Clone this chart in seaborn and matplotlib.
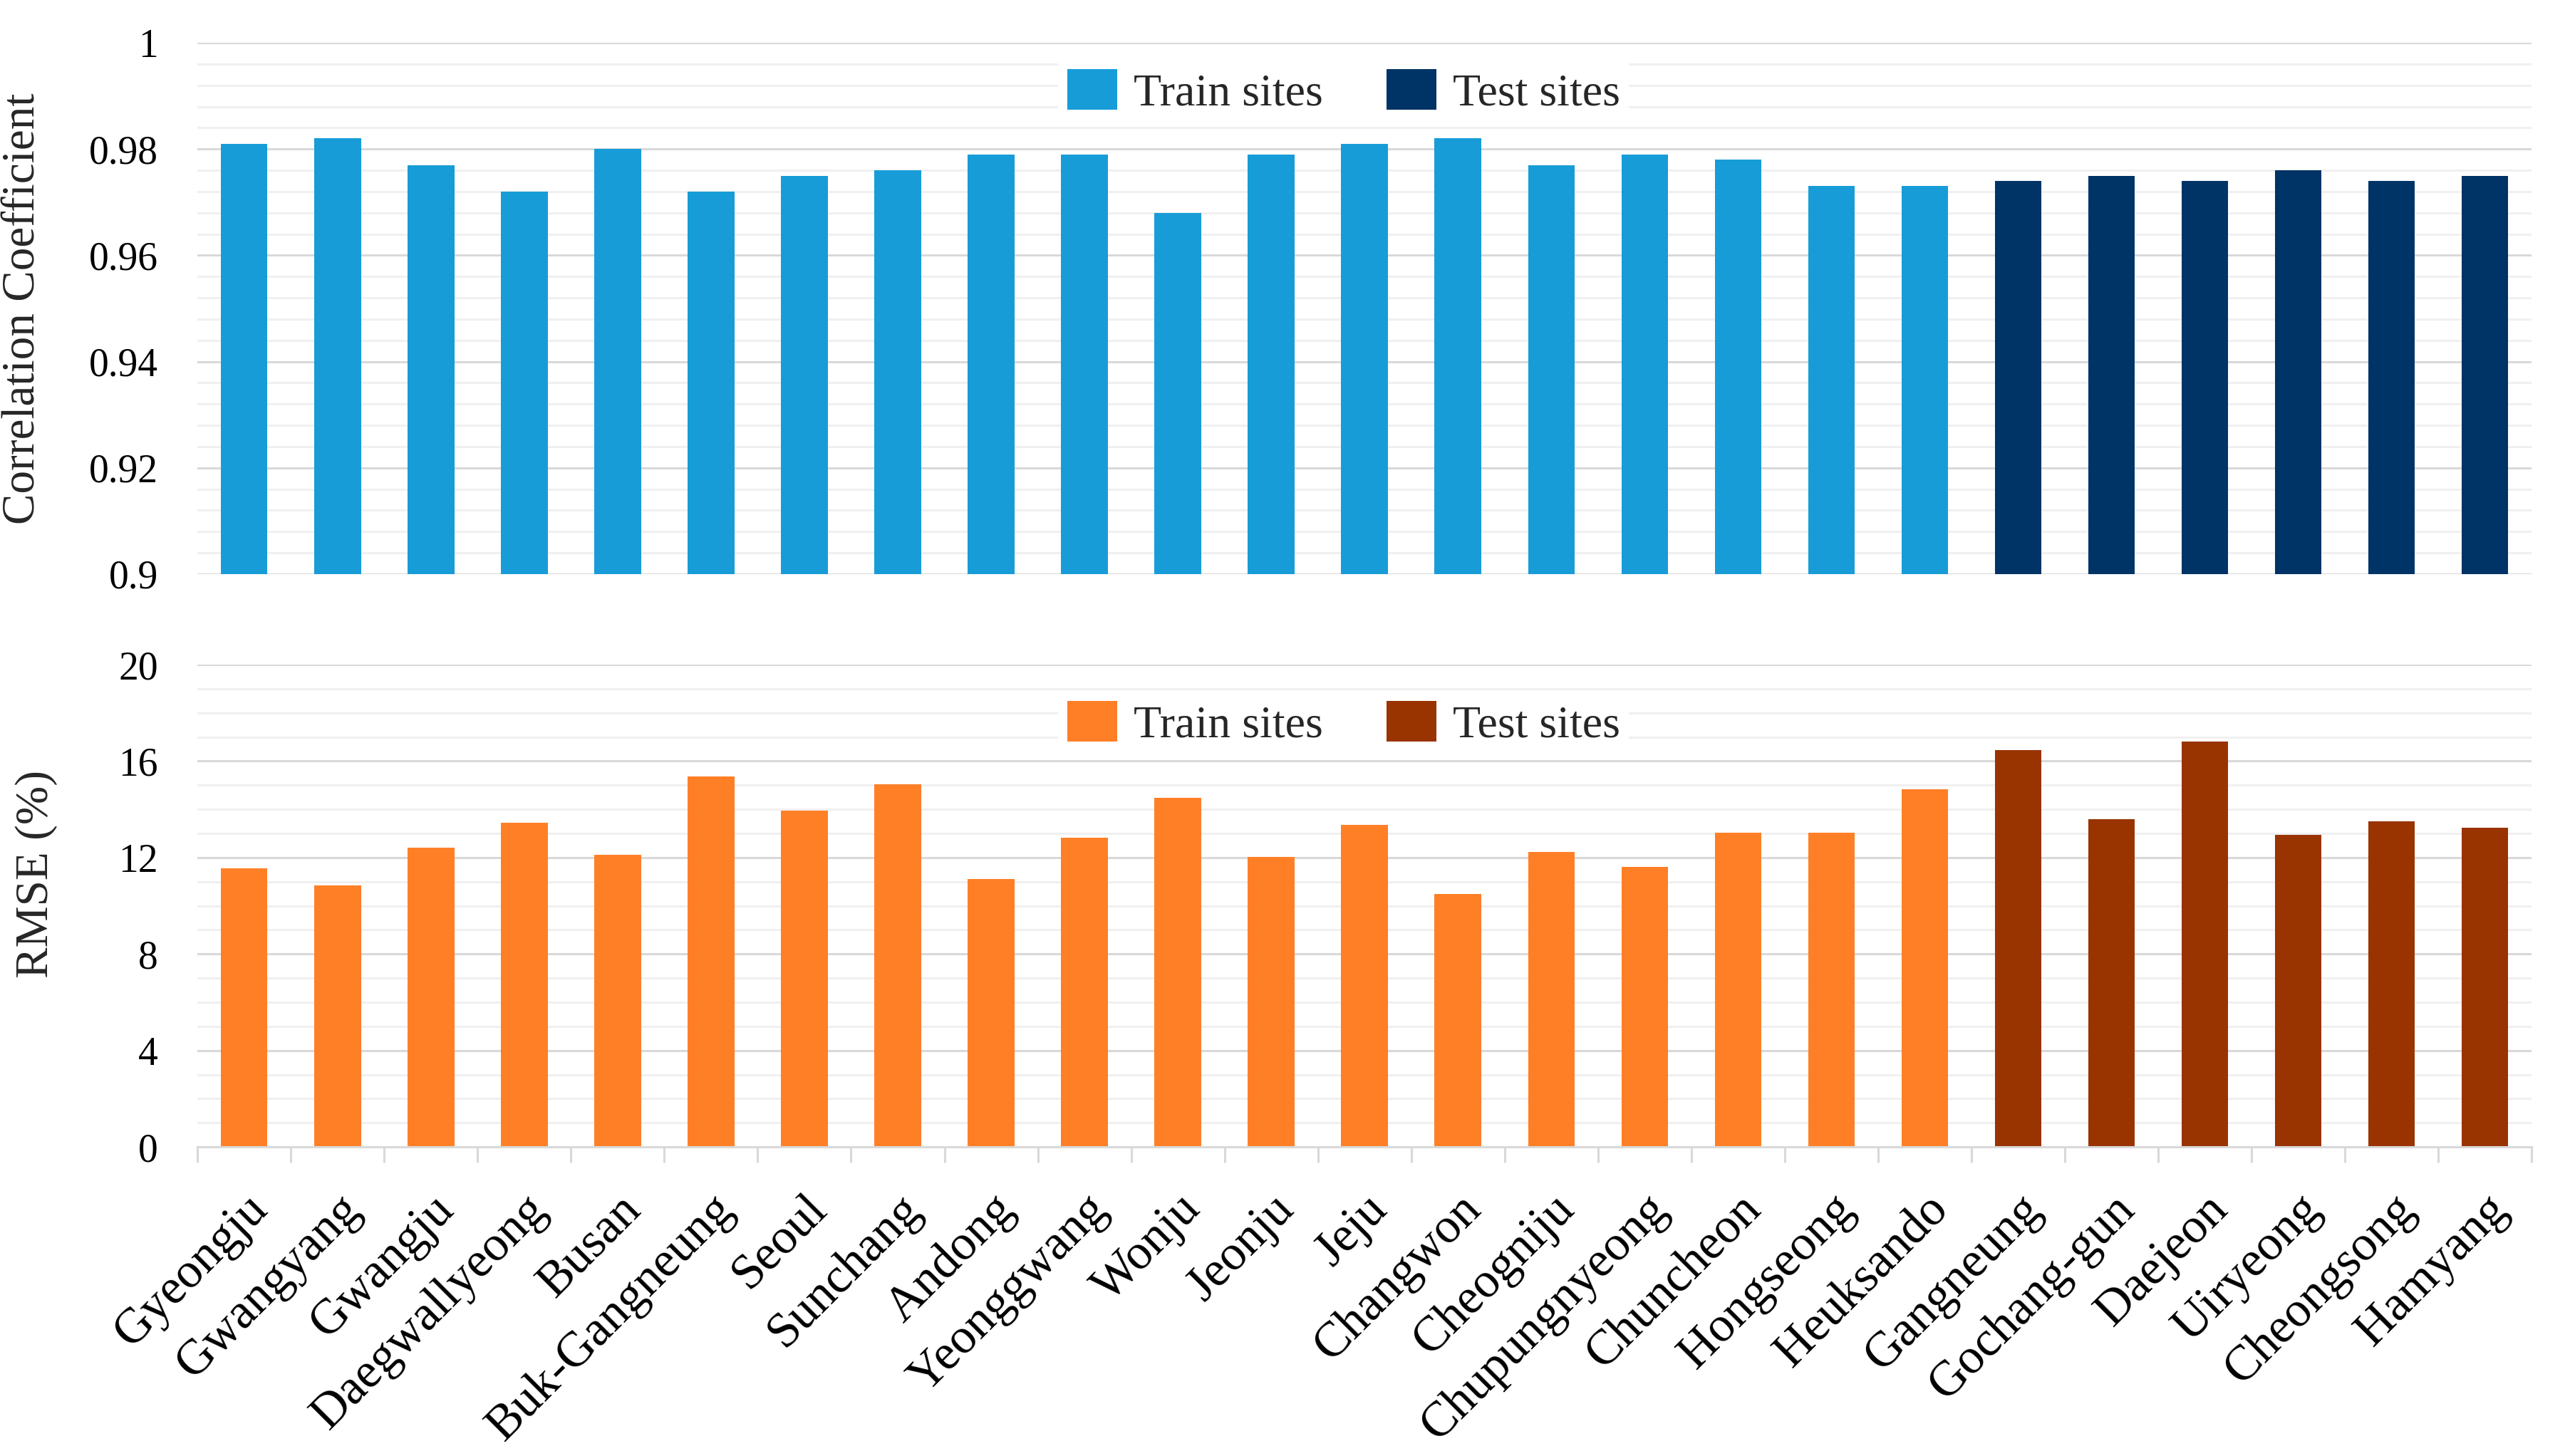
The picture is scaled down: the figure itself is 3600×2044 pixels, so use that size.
import pandas as pd
import numpy as np
import matplotlib.pyplot as plt
from matplotlib.ticker import MultipleLocator, FuncFormatter
import seaborn as sns


# data
sites = ["Gyeongju", "Gwangyang", "Gwangju", "Daegwallyeong", "Busan",
         "Buk-Gangneung", "Seoul", "Sunchang", "Andong", "Yeonggwang",
         "Wonju", "Jeonju", "Jeju", "Changwon", "Cheogniju",
         "Chupungnyeong", "Chuncheon", "Hongseong", "Heuksando",
         "Gangneung", "Gochang-gun", "Daejeon", "Uiryeong", "Cheongsong",
         "Hamyang"]
groups = ["Train sites"] * 19 + ["Test sites"] * 6

corr = [0.981, 0.982, 0.977, 0.972, 0.980, 0.972, 0.975, 0.976, 0.979,
        0.979, 0.968, 0.979, 0.981, 0.982, 0.977, 0.979, 0.978, 0.973,
        0.973, 0.974, 0.975, 0.974, 0.976, 0.974, 0.975]
rmse = [11.55, 10.85, 12.41, 13.44, 12.11, 15.35, 13.94, 15.05, 11.12,
        12.81, 14.49, 12.04, 13.37, 10.50, 12.24, 11.62, 13.02, 13.02,
        14.83, 16.47, 13.58, 16.81, 12.93, 13.51, 13.23]

df = pd.DataFrame({"site": sites, "group": groups, "corr": corr, "rmse": rmse})

blue_pal = {"Train sites": "#179CD8", "Test sites": "#003366"}
orange_pal = {"Train sites": "#FF7F27", "Test sites": "#993300"}

sns.set_theme(style="white")
plt.rcParams["font.family"] = ["Liberation Serif", "DejaVu Serif"]

fig = plt.figure(figsize=(18, 10.22), dpi=200)
ax1 = fig.add_axes([0.077, 0.6057, 0.910, 0.3649])
ax2 = fig.add_axes([0.077, 0.2123, 0.910, 0.3312])


def draw_panel(ax, col, pal, ylim, major, minor, ylabel, label_pos, leg_pos):
    sns.barplot(data=df, x="site", y=col, hue="group", palette=pal,
                dodge=False, width=0.5, linewidth=0, saturation=1, ax=ax)
    ax.set_xlim(-0.5, len(sites) - 0.5)
    ax.set_ylim(*ylim)
    ax.set_axisbelow(True)

    # excel style gridlines
    ax.yaxis.set_major_locator(MultipleLocator(major))
    ax.yaxis.set_minor_locator(MultipleLocator(minor))
    ax.yaxis.set_major_formatter(FuncFormatter(lambda v, p: f"{v:g}"))
    ax.grid(which="major", axis="y", color="#D9D9D9", lw=1.1)
    ax.grid(which="minor", axis="y", color="#F0F0F0", lw=1.1)
    ax.grid(which="both", axis="x", visible=False)
    ax.tick_params(axis="y", which="both", length=0, pad=20,
                   labelsize=20, labelcolor="black")
    for s in ax.spines.values():
        s.set_visible(False)

    ax.set_xlabel("")
    ax.set_ylabel(ylabel, fontsize=23.5, color="#262626")
    ax.yaxis.set_label_coords(*label_pos)

    # legend with white box over the gridlines
    old = ax.get_legend()
    handles = old.legend_handles
    labels = [t.get_text() for t in old.get_texts()]
    old.remove()
    ax.legend(handles, labels, loc="center", bbox_to_anchor=leg_pos, ncol=2,
              frameon=True, facecolor="white", edgecolor="none", framealpha=1,
              fancybox=False, fontsize=23, handlelength=1.1, handleheight=1.0,
              handletextpad=0.35, columnspacing=1.4, borderpad=0.2,
              borderaxespad=0)


draw_panel(ax1, "corr", blue_pal, (0.9, 1.0), 0.02, 0.004,
           "Correlation Coefficient", (-0.0656, 0.5), (0.491, 0.907))
draw_panel(ax2, "rmse", orange_pal, (0, 20), 4, 1,
           "RMSE (%)", (-0.060, 0.566), (0.491, 0.877))

# top panel has no x labels
ax1.tick_params(axis="x", which="both", bottom=False, labelbottom=False)

# bottom panel: axis line with tick marks between categories
ax2.spines["bottom"].set_visible(True)
ax2.spines["bottom"].set_color("#D9D9D9")
ax2.spines["bottom"].set_linewidth(1.1)
ax2.set_xticks(np.arange(-0.5, len(sites), 1), minor=True)
ax2.tick_params(axis="x", which="minor", bottom=True, length=8, width=1.1,
                color="#D9D9D9", direction="out")
ax2.tick_params(axis="x", which="major", length=0, pad=20, labelsize=25,
                labelcolor="black")
for lab in ax2.get_xticklabels():
    lab.set_rotation(45)
    lab.set_ha("right")
    lab.set_va("top")
    lab.set_rotation_mode("anchor")

fig.savefig("out.png", dpi=200)
